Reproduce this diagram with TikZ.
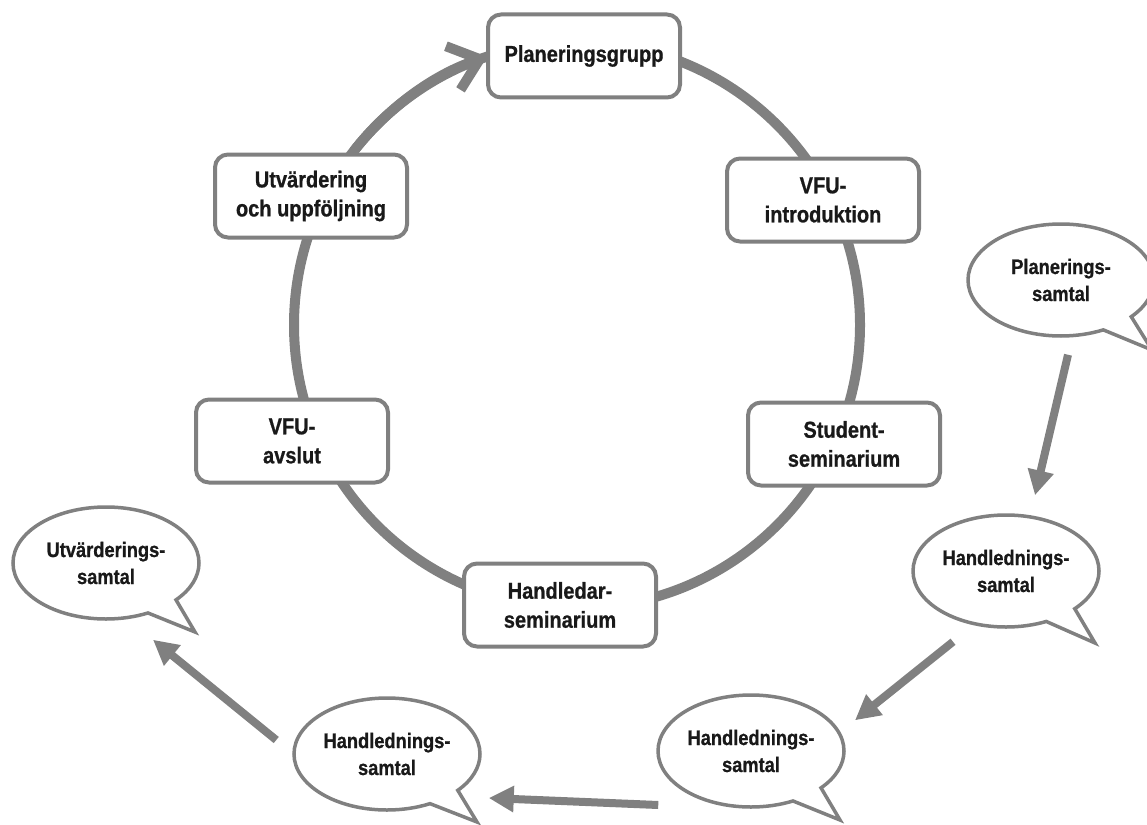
\documentclass[tikz,border=0pt]{standalone}
\usepackage{fontspec}
\setmainfont{Liberation Sans}[FakeStretch=0.87, BoldFeatures={FakeBold=0.8}]
\usetikzlibrary{shapes.callouts,arrows.meta}
\definecolor{ringgray}{RGB}{128,128,128}
\definecolor{inkgray}{RGB}{25,25,25}
\begin{document}
\begin{tikzpicture}[
        x=1pt, y=-1pt,
        stage/.style={draw=ringgray, line width=4pt, fill=white, rounded corners=13pt,
            minimum width=192pt, minimum height=83pt, align=center, text=inkgray,
            font=\bfseries\fontsize{23}{29}\selectfont},
        talk/.style={ellipse callout, draw=ringgray, line width=3.5pt, fill=white,
            minimum width=186pt, minimum height=112pt, inner sep=0pt, align=center,
            callout pointer arc=22,
            text=inkgray, font=\bfseries\fontsize{21}{27}\selectfont},
        ring/.style={draw=ringgray, line width=10pt},
        flow/.style={draw=ringgray, line width=8pt, -{Triangle[length=25pt,width=25pt]}},
    ]
    \useasboundingbox (0,0) rectangle (1147,824);
    % First the ring with its arrow
    \coordinate (hub) at (577,325);
    \draw[ring] (hub) circle[radius=283pt];
    \draw[ring, -{Straight Barb[length=28pt,width=46pt]}]
        (hub) ++(142:283pt) arc[start angle=142, end angle=108.5, radius=283pt];
    % Then the stages on the ring
    \foreach \pos/\name/\label in {
            {(584,56)/plan/Planeringsgrupp},
            {(823,200)/intro/VFU-\\introduktion},
            {(844,444)/stud/Student-\\seminarium},
            {(560,605)/hledsem/Handledar-\\seminarium},
            {(292,441)/avslut/VFU-\\avslut},
            {(311,196)/utv/Utvärdering\\och uppföljning}}
        \node[stage] (\name) at \pos {\label};
    % Speech bubbles, each with the tip of its tail
    \foreach \pos/\tip/\name/\label in {
            {(1061,280)/(1152,350)/plantalk/Planerings-\\samtal},
            {(1006,571)/(1095,643)/handtalk1/Handlednings-\\samtal},
            {(751,751)/(840,820)/handtalk2/Handlednings-\\samtal},
            {(387,754)/(477,822)/handtalk3/Handlednings-\\samtal},
            {(106,563)/(195,632)/utvtalk/Utvärderings-\\samtal}}
        \node[talk, callout absolute pointer=\tip] (\name) at \pos {\label};
    % Arrows between the bubbles
    \draw[flow] ([xshift=7pt,yshift=-17pt]plantalk.south) -- ([xshift=29pt,yshift=18pt]handtalk1.north);
    \draw[flow] ([xshift=-53pt,yshift=-13pt]handtalk1.south) -- ([xshift=104pt,yshift=-27pt]handtalk2.north);
    \draw[flow] ([xshift=2pt,yshift=-54pt]handtalk2.west) -- ([xshift=7pt,yshift=-44pt]handtalk3.east);
    \draw[flow] ([xshift=-16pt,yshift=14pt]handtalk3.west) -- ([xshift=47pt,yshift=-19pt]utvtalk.south);
\end{tikzpicture}
\end{document}
